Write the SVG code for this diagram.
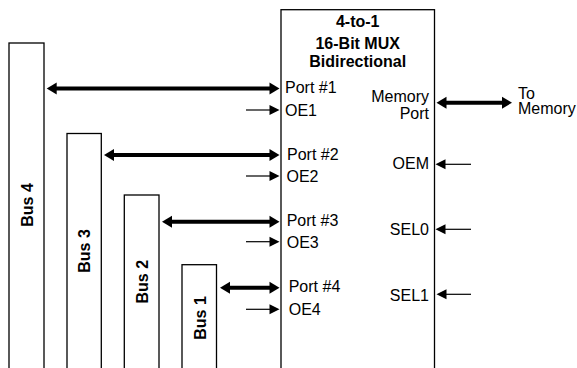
<svg xmlns="http://www.w3.org/2000/svg" width="577" height="368" viewBox="0 0 577 368">
<style>
.box{fill:#fff;stroke:#000;stroke-width:1.3}
.t{font-family:"Liberation Sans",Arial,sans-serif;font-size:16px;fill:#000}
.b{font-family:"Liberation Sans",Arial,sans-serif;font-size:16px;font-weight:bold;fill:#000}
.thick{stroke:#000;stroke-width:4;fill:none}
.thin{stroke:#000;stroke-width:1.2;fill:none}
</style>
<defs>
<marker id="ah" markerUnits="userSpaceOnUse" markerWidth="10" markerHeight="12" refX="2" refY="6" orient="auto-start-reverse" overflow="visible">
<path d="M0,0 L10,6 L0,12 Z" fill="#000"/>
</marker>
<marker id="as" markerUnits="userSpaceOnUse" markerWidth="10" markerHeight="10" refX="1" refY="5" orient="auto" overflow="visible">
<path d="M0,0 L10,5 L0,10 Z" fill="#000"/>
</marker>
</defs>
<g id="mux">
<rect class="box" x="281" y="9.7" width="153.5" height="370"/>
<text class="b" x="357.7" y="26.7" text-anchor="middle">4-to-1</text>
<text class="b" x="357.7" y="48.7" text-anchor="middle">16-Bit MUX</text>
<text class="b" x="357.7" y="66.7" text-anchor="middle">Bidirectional</text>
<text class="t" x="285" y="93.3">Port #1</text>
<text class="t" x="285" y="115.5">OE1</text>
<text class="t" x="287" y="159.5">Port #2</text>
<text class="t" x="286.5" y="181.5">OE2</text>
<text class="t" x="286.7" y="226">Port #3</text>
<text class="t" x="286.7" y="248">OE3</text>
<text class="t" x="288.7" y="292.3">Port #4</text>
<text class="t" x="288.7" y="315">OE4</text>
<text class="t" x="429" y="101.5" text-anchor="end">Memory</text>
<text class="t" x="429" y="118.5" text-anchor="end">Port</text>
<text class="t" x="429" y="168.5" text-anchor="end">OEM</text>
<text class="t" x="429" y="235" text-anchor="end">SEL0</text>
<text class="t" x="429" y="300.7" text-anchor="end">SEL1</text>
</g>
<g id="bus4">
<rect class="box" x="9" y="43" width="35" height="340"/>
<text class="b" transform="translate(33.3,205) rotate(-90)" text-anchor="middle">Bus 4</text>
</g>
<g id="bus3">
<rect class="box" x="67" y="133.5" width="34.3" height="250"/>
<text class="b" transform="translate(90,251) rotate(-90)" text-anchor="middle">Bus 3</text>
</g>
<g id="bus2">
<rect class="box" x="124.3" y="195" width="34.7" height="190"/>
<text class="b" transform="translate(148.3,281.7) rotate(-90)" text-anchor="middle">Bus 2</text>
</g>
<g id="bus1">
<rect class="box" x="182" y="264.7" width="34.5" height="120"/>
<text class="b" transform="translate(206,318) rotate(-90)" text-anchor="middle">Bus 1</text>
</g>
<g id="memory">
<text class="t" x="518" y="98.5">To</text>
<text class="t" x="518" y="114">Memory</text>
</g>
<g id="connectors">
<line class="thick" x1="54.7" y1="88.5" x2="271.5" y2="88.5" marker-start="url(#ah)" marker-end="url(#ah)"/>
<line class="thick" x1="112" y1="155" x2="271.5" y2="155" marker-start="url(#ah)" marker-end="url(#ah)"/>
<line class="thick" x1="170" y1="221.7" x2="271.5" y2="221.7" marker-start="url(#ah)" marker-end="url(#ah)"/>
<line class="thick" x1="228" y1="287.7" x2="271.5" y2="287.7" marker-start="url(#ah)" marker-end="url(#ah)"/>
<line class="thick" x1="444.5" y1="102.7" x2="504" y2="102.7" marker-start="url(#ah)" marker-end="url(#ah)"/>
<line class="thin" x1="246" y1="110" x2="270.5" y2="110" marker-end="url(#as)"/>
<line class="thin" x1="246" y1="176" x2="270.5" y2="176" marker-end="url(#as)"/>
<line class="thin" x1="246" y1="241.7" x2="270.5" y2="241.7" marker-end="url(#as)"/>
<line class="thin" x1="246" y1="309.3" x2="270.5" y2="309.3" marker-end="url(#as)"/>
<line class="thin" x1="471" y1="164.3" x2="444.5" y2="164.3" marker-end="url(#as)"/>
<line class="thin" x1="471" y1="229.3" x2="444.5" y2="229.3" marker-end="url(#as)"/>
<line class="thin" x1="471" y1="294.3" x2="445.5" y2="294.3" marker-end="url(#as)"/>
</g>
</svg>
